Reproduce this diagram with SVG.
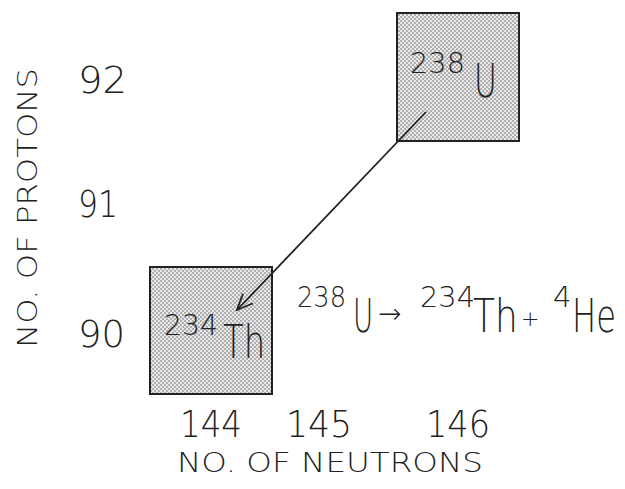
<svg xmlns="http://www.w3.org/2000/svg" width="625" height="489" viewBox="0 0 625 489">
<style>
text{font-family:"DejaVu Sans","Liberation Sans",sans-serif;fill:#222;font-weight:200}
.num{font-size:37px}
.lbl{font-size:27px}
.sup{font-size:29px}
.el{font-size:46px}
.box{fill:url(#dots);stroke:#222;stroke-width:2}
.conn{stroke:#222;stroke-width:1.8;fill:none}
</style>
<defs>
<pattern id="dots" width="4" height="4" patternUnits="userSpaceOnUse">
<rect width="4" height="4" fill="#e8e8e8"/>
<circle cx="1" cy="1" r="0.8" fill="#666"/>
<circle cx="3" cy="3" r="0.8" fill="#666"/>
</pattern>
<marker id="ah" markerWidth="18" markerHeight="18" refX="16" refY="9" orient="auto" markerUnits="userSpaceOnUse">
<path d="M0,2 L16,9 L0,16" fill="none" stroke="#222" stroke-width="1.8"/>
</marker>
</defs>
<g id="axes">
<text class="lbl" transform="translate(37,208) rotate(-90)" text-anchor="middle" textLength="280" lengthAdjust="spacingAndGlyphs">NO. OF PROTONS</text>
<text class="num" x="78" y="93" textLength="49" lengthAdjust="spacingAndGlyphs">92</text>
<text class="num" x="78" y="217" textLength="40" lengthAdjust="spacingAndGlyphs">91</text>
<text class="num" x="78" y="347" textLength="47" lengthAdjust="spacingAndGlyphs">90</text>
<text class="num" x="180" y="437" textLength="62" lengthAdjust="spacingAndGlyphs">144</text>
<text class="num" x="286" y="437" textLength="66" lengthAdjust="spacingAndGlyphs">145</text>
<text class="num" x="426" y="437" textLength="64" lengthAdjust="spacingAndGlyphs">146</text>
<text class="lbl" x="177" y="472" textLength="306" lengthAdjust="spacingAndGlyphs">NO. OF NEUTRONS</text>
</g>
<g id="u238">
<rect class="box" x="397" y="13" width="122" height="128"/>
<text class="sup" x="410" y="73" textLength="55" lengthAdjust="spacingAndGlyphs">238</text>
<text class="el" transform="translate(474,97) scale(0.68,1)">U</text>
</g>
<g id="th234">
<rect class="box" x="150" y="267" width="122" height="127"/>
<text class="sup" x="164" y="335" textLength="54" lengthAdjust="spacingAndGlyphs">234</text>
<text class="el" transform="translate(223,358) scale(0.74,1)">Th</text>
</g>
<g id="connectors">
<line class="conn" x1="426" y1="112" x2="237" y2="310" marker-end="url(#ah)"/>
</g>
<g id="equation">
<text class="sup" x="297" y="307" textLength="49" lengthAdjust="spacingAndGlyphs">238</text>
<text class="el" transform="translate(353,332) scale(0.6,1)">U</text>
<text x="378" y="323" style="font-size:28px">→</text>
<text class="sup" x="420" y="307" textLength="55" lengthAdjust="spacingAndGlyphs">234</text>
<text class="el" transform="translate(473,332) scale(0.78,1)">Th</text>
<text x="521" y="326" style="font-size:22px">+</text>
<text class="sup" x="553" y="307">4</text>
<text class="el" transform="translate(572,332) scale(0.7,1)">He</text>
</g>
</svg>
